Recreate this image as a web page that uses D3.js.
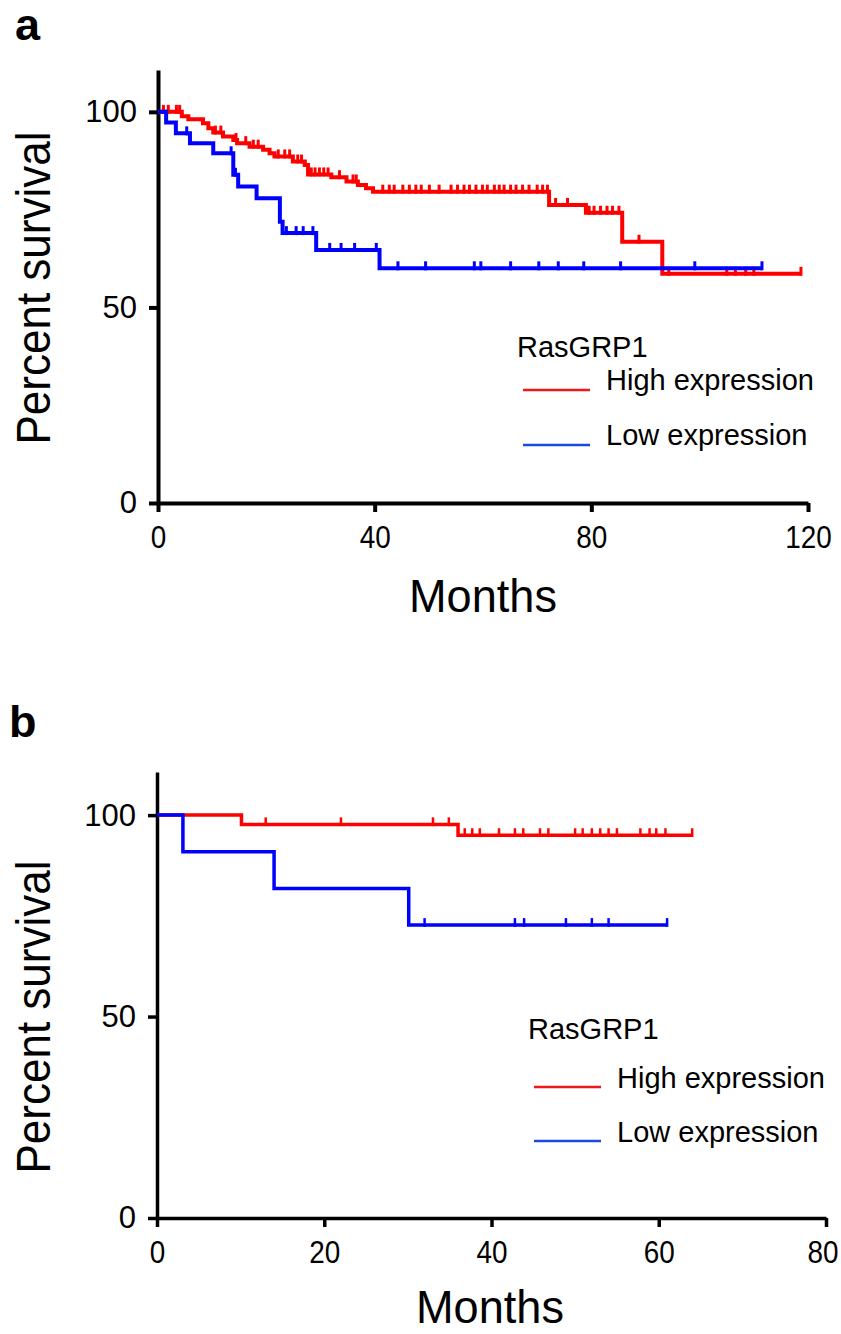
<!DOCTYPE html>
<html>
<head>
<meta charset="utf-8">
<script src="https://cdn.jsdelivr.net/npm/d3@7"></script>
<style>
  body { margin: 0; background: #fff; }
  text { font-family: "Liberation Sans", Arial, Helvetica, sans-serif; fill: #000; }
</style>
</head>
<body>
<svg id="chart" width="841" height="1334"></svg>
<script>
// legend groups
const groups = ["High expression", "Low expression"];
const lineColors = ["#ff0000", "#0000ff"];
const legendColors = ["#f01818", "#1a4ae0"];
const legendTitle = "RasGRP1";

// panel a: event times (months) and survival (%) after each event, censored times
const aHighTimes = [4.4, 5.6, 8.3, 9.3, 10.2, 12.0, 13.9, 14.6, 16.9, 19.4, 20.6, 21.5, 24.9, 27.1, 27.7, 32.0, 34.8, 36.9, 38.4, 39.7, 72.2, 79.0, 85.7, 93.1];
const aHighSurv  = [98.9, 98.1, 97.1, 95.8, 94.7, 93.7, 92.8, 92.0, 91.1, 90.3, 89.4, 88.6, 87.3, 86.4, 84.0, 83.3, 82.2, 81.3, 80.5, 79.6, 76.2, 74.2, 66.8, 58.6];
const aHighCensor = [1.0, 1.9, 3.4, 4.0, 10.6, 11.6, 14.4, 16.2, 17.6, 18.5, 22.2, 23.4, 24.3, 25.8, 26.5, 28.3, 29.0, 29.8, 30.6, 31.4, 33.5, 36.0, 36.6,
  41.5, 42.7, 43.6, 45.2, 46.4, 47.6, 48.6, 50.1, 51.9, 54.1, 55.3, 56.5, 57.5, 58.7, 59.9, 60.8, 62.1, 63.0, 63.9, 65.1, 66.1, 67.3, 68.5, 70.0, 71.0, 71.9,
  73.4, 75.6, 79.6, 80.5, 81.7, 82.9, 83.9, 85.1, 88.8, 94.3, 105.0, 106.6, 108.5, 110.0, 118.7];
const aLowTimes = [1.5, 3.3, 5.9, 10.2, 13.9, 14.8, 18.2, 22.5, 23.0, 29.2, 40.9];
const aLowSurv  = [97.3, 94.5, 92.0, 89.4, 83.9, 80.9, 77.9, 71.9, 69.0, 64.7, 60.0];
const aLowCensor = [5.3, 13.5, 14.3, 23.7, 25.5, 26.8, 28.6, 31.7, 33.8, 36.3, 40.3, 44.3, 49.4, 58.4, 59.6, 65.1, 70.3, 73.9, 78.6, 85.4, 99.1, 111.5];
const aXTicks = [0, 40, 80, 120];

// panel b
const bHighTimes = [10.1, 36.0];
const bHighSurv  = [97.7, 95.0];
const bHighCensor = [13.0, 22.0, 33.0, 34.9, 36.8, 37.7, 38.6, 40.9, 42.8, 43.8, 45.8, 46.8, 50.0, 50.9, 52.0, 53.0, 54.0, 55.0, 57.8, 58.9, 59.7, 60.8, 64.0];
const bLowTimes = [3.1, 14.0, 30.1];
const bLowSurv  = [90.9, 81.8, 72.7];
const bLowCensor = [32.0, 42.8, 43.9, 48.9, 52.0, 54.0, 61.0];
const bXTicks = [0, 20, 40, 60, 80];

const yTicks = [0, 50, 100];

const svg = d3.select("#chart");
const pageW = +svg.attr("width");

function survAt(times, surv, t) {
  let s = 100;
  times.forEach(function (tt, i) {
    if (tt <= t) s = surv[i];
  });
  return s;
}

function drawPanel(p) {
  const x = d3.scaleLinear().domain([0, p.xMax]).range([p.left, p.right]);
  const y = d3.scaleLinear().domain([0, 110.7]).range([p.bottom, p.top]);
  const g = svg.append("g");

  // axes
  const yAxis = g.append("g")
    .attr("transform", "translate(" + p.left + ",0)")
    .call(d3.axisLeft(y).tickValues(yTicks).tickSize(9).tickSizeOuter(0).tickPadding(12));
  const xAxis = g.append("g")
    .attr("transform", "translate(0," + p.bottom + ")")
    .call(d3.axisBottom(x).tickValues(p.xTicks).tickSize(9).tickSizeOuter(0).tickPadding(14));

  [yAxis, xAxis].forEach(function (ax) {
    ax.select(".domain").attr("stroke", "#000").attr("stroke-width", p.axisW);
    ax.selectAll(".tick line").attr("stroke", "#000").attr("stroke-width", p.axisW);
    ax.selectAll(".tick text")
      .attr("fill", "#000")
      .style("font-size", "31px")
      .style("font-family", "'Liberation Sans', Arial, sans-serif");
  });
  // narrower digits on the x axis; keep the last label inside the page
  xAxis.selectAll(".tick text")
    .attr("textLength", function (d) { return String(d).length * 15.5; })
    .attr("lengthAdjust", "spacingAndGlyphs")
    .each(function (d) {
      const half = String(d).length * 15.5 / 2;
      const over = x(d) + half - (pageW - 3);
      if (over > 0) d3.select(this).attr("x", -over);
    });

  // curves: high first, low drawn on top
  p.series.forEach(function (s, i) {
    const end = d3.max(s.censor);
    const pts = [[0, 100]];
    s.times.forEach(function (t, k) { pts.push([t, s.surv[k]]); });
    pts.push([end, s.surv[s.surv.length - 1]]);

    const line = d3.line()
      .x(function (d) { return x(d[0]); })
      .y(function (d) { return y(d[1]); })
      .curve(d3.curveStepAfter);

    g.append("path")
      .datum(pts)
      .attr("fill", "none")
      .attr("stroke", lineColors[i])
      .attr("stroke-width", p.lineW)
      .attr("d", line);

    g.selectAll(null)
      .data(s.censor)
      .enter().append("line")
      .attr("x1", function (d) { return x(d); })
      .attr("x2", function (d) { return x(d); })
      .attr("y1", function (d) { return y(survAt(s.times, s.surv, d)) + p.lineW / 2; })
      .attr("y2", function (d) { return y(survAt(s.times, s.surv, d)) - p.tickH; })
      .attr("stroke", lineColors[i])
      .attr("stroke-width", p.censorW);
  });

  // labels
  g.append("text")
    .attr("x", p.tagX).attr("y", p.tagY)
    .style("font-size", "45px").style("font-weight", "bold")
    .text(p.tag);

  g.append("text")
    .attr("transform", "translate(50," + p.yLabelY + ") rotate(-90)")
    .attr("text-anchor", "middle")
    .attr("textLength", 313).attr("lengthAdjust", "spacingAndGlyphs")
    .style("font-size", "48px")
    .text("Percent survival");

  g.append("text")
    .attr("x", p.monthsX).attr("y", p.monthsY)
    .attr("text-anchor", "middle")
    .attr("textLength", 148).attr("lengthAdjust", "spacingAndGlyphs")
    .style("font-size", "47px")
    .text("Months");

  // legend
  g.append("text")
    .attr("x", p.legX - 6).attr("y", p.legY)
    .style("font-size", "29px")
    .text(legendTitle);
  groups.forEach(function (name, i) {
    const ly = p.legY + p.legGap1 + i * p.legGap2;
    g.append("line")
      .attr("x1", p.legX).attr("x2", p.legX + 67)
      .attr("y1", ly).attr("y2", ly)
      .attr("stroke", legendColors[i]).attr("stroke-width", 2.5);
    g.append("text")
      .attr("x", p.legX + 83).attr("y", ly + p.legTextDy)
      .style("font-size", "29px")
      .text(name);
  });
}

drawPanel({
  tag: "a", tagX: 15, tagY: 40,
  xMax: 120, xTicks: aXTicks,
  left: 158, right: 808, top: 70, bottom: 503,
  axisW: 4, lineW: 4, censorW: 3, tickH: 7,
  yLabelY: 288, monthsX: 483, monthsY: 612,
  legX: 523, legY: 357, legGap1: 33, legGap2: 55, legTextDy: 0,
  series: [
    { times: aHighTimes, surv: aHighSurv, censor: aHighCensor },
    { times: aLowTimes, surv: aLowSurv, censor: aLowCensor }
  ]
});

drawPanel({
  tag: "b", tagX: 9, tagY: 737,
  xMax: 80, xTicks: bXTicks,
  left: 157, right: 826, top: 772, bottom: 1218,
  axisW: 3.5, lineW: 3.5, censorW: 2.5, tickH: 7,
  yLabelY: 1017, monthsX: 490, monthsY: 1323,
  legX: 534, legY: 1039, legGap1: 48, legGap2: 54, legTextDy: 1,
  series: [
    { times: bHighTimes, surv: bHighSurv, censor: bHighCensor },
    { times: bLowTimes, surv: bLowSurv, censor: bLowCensor }
  ]
});
</script>
</body>
</html>
